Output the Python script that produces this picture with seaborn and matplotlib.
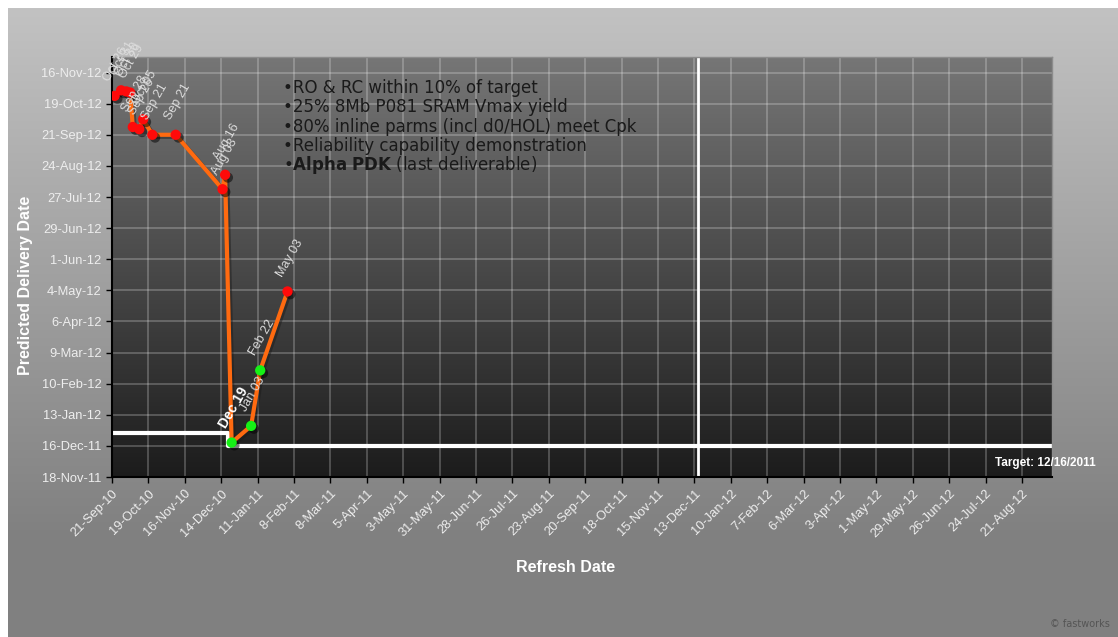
import numpy as np
import pandas as pd
import matplotlib
matplotlib.use("Agg")
import matplotlib.pyplot as plt
import matplotlib.dates as mdates
import matplotlib.patheffects as pe
import seaborn as sns

# --- data ---
refresh_dates = ["2010-09-23", "2010-09-28", "2010-10-02", "2010-10-05", "2010-10-07",
                 "2010-10-12", "2010-10-15", "2010-10-22", "2010-11-09", "2010-12-15",
                 "2010-12-17", "2010-12-22", "2011-01-06", "2011-01-13", "2011-02-03"]
predicted_dates = ["2012-10-26", "2012-10-31", "2012-10-30", "2012-10-29", "2012-09-28",
                   "2012-09-26", "2012-10-05", "2012-09-21", "2012-09-21", "2012-08-03",
                   "2012-08-16", "2011-12-19", "2012-01-03", "2012-02-22", "2012-05-03"]
status = ["miss", "miss", "miss", "miss", "miss", "miss", "miss", "miss", "miss", "miss",
          "miss", "hit", "hit", "hit", "miss"]

# target history (step line) and the target date marker
target_refresh = ["2010-09-21", "2010-12-19", "2012-09-13"]
target_dates = ["2011-12-28", "2011-12-16", "2011-12-16"]
target_day = "2011-12-16"

x_tick_labels = ["21-Sep-10", "19-Oct-10", "16-Nov-10", "14-Dec-10", "11-Jan-11", "8-Feb-11",
                 "8-Mar-11", "5-Apr-11", "3-May-11", "31-May-11", "28-Jun-11", "26-Jul-11",
                 "23-Aug-11", "20-Sep-11", "18-Oct-11", "15-Nov-11", "13-Dec-11", "10-Jan-12",
                 "7-Feb-12", "6-Mar-12", "3-Apr-12", "1-May-12", "29-May-12", "26-Jun-12",
                 "24-Jul-12", "21-Aug-12"]
y_tick_labels = ["18-Nov-11", "16-Dec-11", "13-Jan-12", "10-Feb-12", "9-Mar-12", "6-Apr-12",
                 "4-May-12", "1-Jun-12", "29-Jun-12", "27-Jul-12", "24-Aug-12", "21-Sep-12",
                 "19-Oct-12", "16-Nov-12"]
x_range = ["2010-09-21", "2012-09-13"]
y_range = ["2011-11-18", "2012-11-30"]

bullets = ["•RO & RC within 10% of target",
           "•25% 8Mb P081 SRAM Vmax yield",
           "•80% inline parms (incl d0/HOL) meet Cpk",
           "•Reliability capability demonstration",
           "•$\\bf{Alpha\\ PDK}$ (last deliverable)"]


def num(dates):
    return mdates.date2num(pd.to_datetime(dates))


df = pd.DataFrame({
    "refresh": num(refresh_dates),
    "predicted": num(predicted_dates),
    "status": status,
    "label": pd.to_datetime(predicted_dates).strftime("%b %d"),
})

sns.set_theme(style="white")
plt.rcParams["font.family"] = ["Liberation Sans", "DejaVu Sans"]

W, H = 1118, 637
fig = plt.figure(figsize=(W / 100, H / 100), dpi=100)
fig.patch.set_facecolor("white")

# outer grey panel, light at the top, flat mid grey at the bottom
outer = fig.add_axes([8 / W, 0, 1 - 8 / W, 1 - 8 / H], zorder=-10)
rows = np.arange(629)
shade = (194 - 66 * np.clip(rows / 530, 0, 1)) / 255
outer.imshow(np.dstack([shade, shade, shade]).reshape(-1, 1, 3), aspect="auto",
             extent=[0, 1, 0, 1])
outer.axis("off")

# plot area
pos = [112 / W, 1 - 477 / H, (1052 - 112) / W, (477 - 57) / H]
inner = fig.add_axes(pos, zorder=-5)
shade2 = np.linspace(118, 28, 256) / 255
inner.imshow(np.dstack([shade2, shade2, shade2]).reshape(-1, 1, 3), aspect="auto",
             extent=[0, 1, 0, 1])
inner.axis("off")

ax = fig.add_axes(pos)
ax.set_facecolor("none")

# target lines
ax.plot(num(target_refresh), num(target_dates), drawstyle="steps-post",
        color="white", lw=3, zorder=2.5)
ax.axvline(num([target_day])[0], color="white", lw=2, zorder=2.5)

shadow = [pe.SimpleLineShadow(offset=(1.5, -1.5), alpha=0.45), pe.Normal()]
sns.lineplot(data=df, x="refresh", y="predicted", estimator=None, sort=False,
             color="#ff6a10", linewidth=3, ax=ax, zorder=3, path_effects=shadow)
sns.scatterplot(data=df, x="refresh", y="predicted", hue="status",
                palette={"miss": "#ff0a0a", "hit": "#16f016"}, s=55,
                edgecolor="none", legend=False, ax=ax, zorder=4)
for coll in ax.collections:
    coll.set_path_effects([pe.SimplePatchShadow(offset=(2, -2), shadow_rgbFace="black",
                                                alpha=0.5), pe.Normal()])

for _, r in df.iterrows():
    bold = r["label"] == "Dec 19"
    ax.annotate(r["label"], (r["refresh"], r["predicted"]), xytext=(-2, 9),
                textcoords="offset points", rotation=60, rotation_mode="anchor",
                ha="left", va="bottom", fontsize=10 if bold else 9,
                fontweight="bold" if bold else "normal",
                color="white" if bold else "#dcdcdc", zorder=5, annotation_clip=False)

ax.set_xlim(num(x_range))
ax.set_ylim(num(y_range))
ax.set_xticks(num(pd.to_datetime(x_tick_labels, format="%d-%b-%y")))
ax.set_xticklabels(x_tick_labels, rotation=45, ha="right", rotation_mode="anchor")
ax.set_yticks(num(pd.to_datetime(y_tick_labels, format="%d-%b-%y")))
ax.set_yticklabels(y_tick_labels)
ax.tick_params(axis="both", colors="black", labelcolor="#eeeeee", labelsize=9.3,
               direction="out", length=4, width=1, bottom=True, left=True)
ax.grid(True, color="white", alpha=0.28, linewidth=1.1)
ax.set_axisbelow(True)
for side in ["left", "bottom"]:
    ax.spines[side].set_color("black")
    ax.spines[side].set_linewidth(1.5)
for side in ["top", "right"]:
    ax.spines[side].set_color("#8c8c8c")
    ax.spines[side].set_linewidth(1)
ax.set_xlabel("")
ax.set_ylabel("")

fig.text(26 / W, 1 - 285 / H, "Predicted Delivery Date", rotation=90, ha="center",
         va="center", color="white", fontsize=11.5, fontweight="bold")
fig.text(566 / W, 1 - 568 / H, "Refresh Date", ha="center", va="center",
         color="white", fontsize=11.5, fontweight="bold")
fig.text(1096 / W, 1 - 463 / H, "Target: 12/16/2011", ha="right", va="center",
         color="white", fontsize=8.5, fontweight="bold")
fig.text(1110 / W, 1 - 624 / H, "© fastworks", ha="right", va="center",
         color="#555555", fontsize=7, family=["DejaVu Sans"])

for i, line in enumerate(bullets):
    fig.text(283 / W, 1 - (88 + 19.3 * i) / H, line, ha="left", va="center",
             color="#1a1a1a", fontsize=12, family=["DejaVu Sans"])

fig.savefig("out.png", dpi=100)
